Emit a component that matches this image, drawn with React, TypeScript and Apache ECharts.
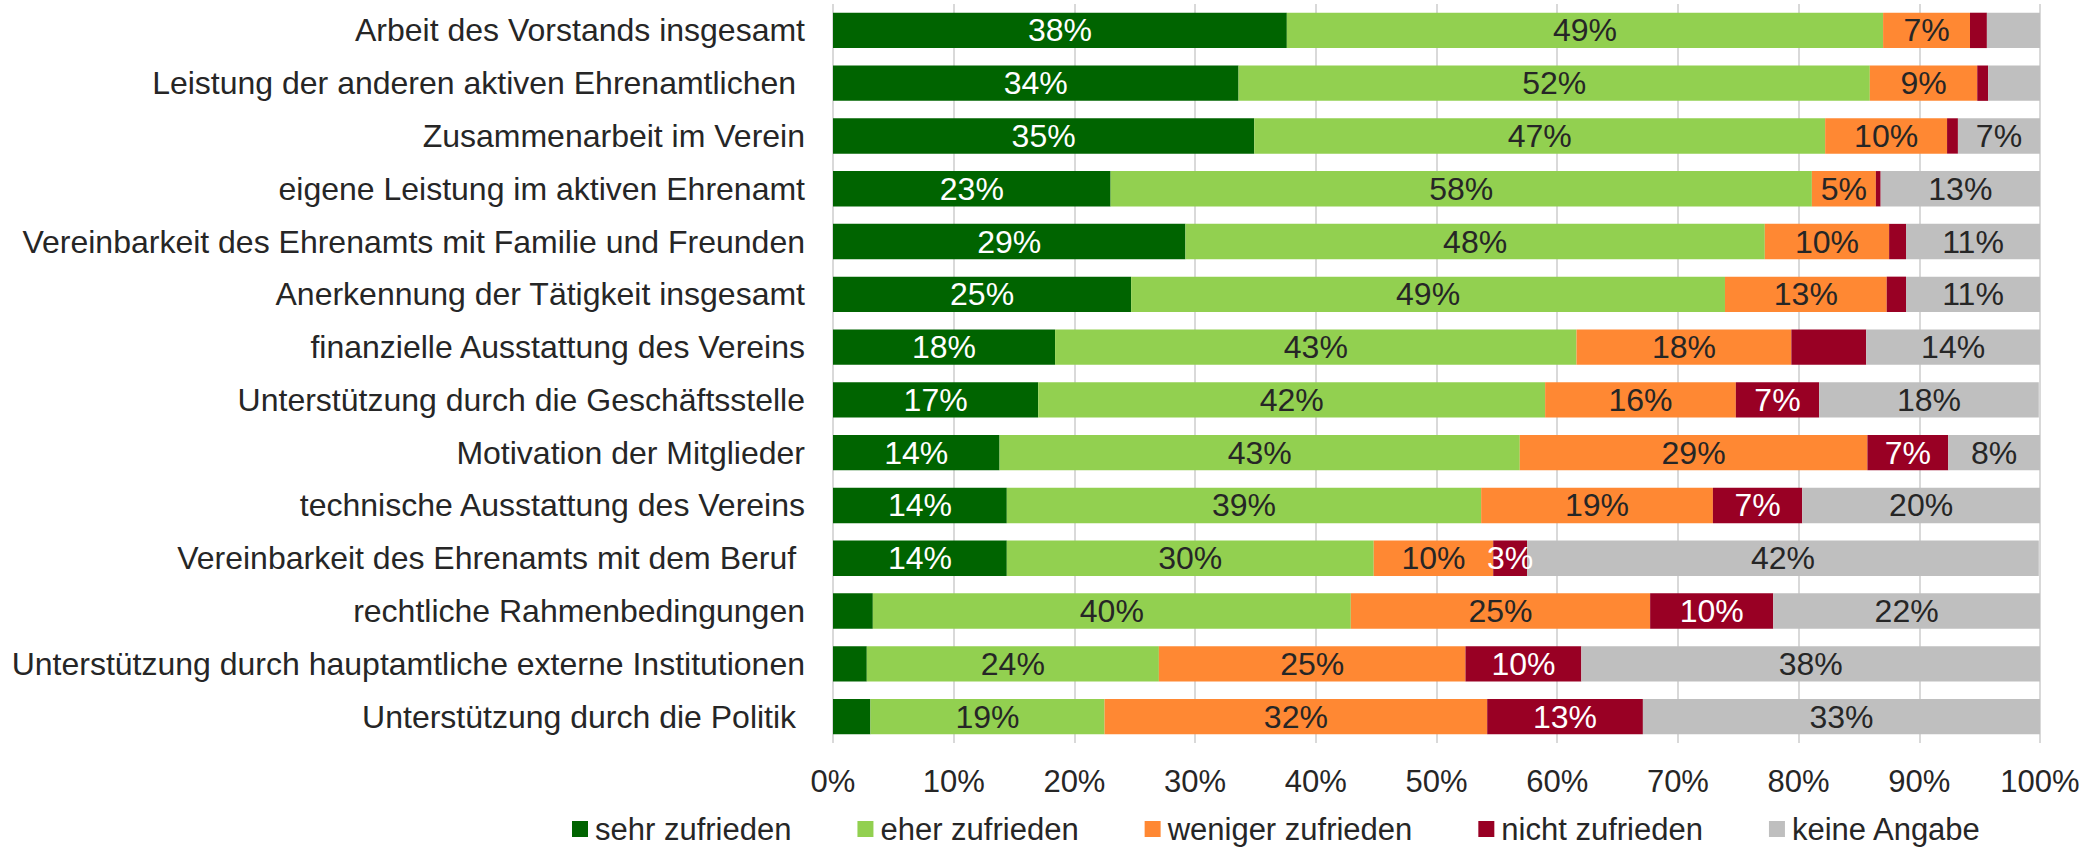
import React, { useEffect, useRef } from "react";
import * as echarts from "echarts";

const categories = [
  "Arbeit des Vorstands insgesamt",
  "Leistung der anderen aktiven Ehrenamtlichen ",
  "Zusammenarbeit im Verein",
  "eigene Leistung im aktiven Ehrenamt",
  "Vereinbarkeit des Ehrenamts mit Familie und Freunden",
  "Anerkennung der Tätigkeit insgesamt",
  "finanzielle Ausstattung des Vereins",
  "Unterstützung durch die Geschäftsstelle",
  "Motivation der Mitglieder",
  "technische Ausstattung des Vereins",
  "Vereinbarkeit des Ehrenamts mit dem Beruf ",
  "rechtliche Rahmenbedingungen",
  "Unterstützung durch hauptamtliche externe Institutionen",
  "Unterstützung durch die Politik ",
];

const seriesNames = [
  "sehr zufrieden",
  "eher zufrieden",
  "weniger zufrieden",
  "nicht zufrieden",
  "keine Angabe",
];

const sehrZufrieden = [37.6, 33.6, 34.9, 23.0, 29.2, 24.7, 18.4, 17.0, 13.8, 14.4, 14.4, 3.3, 2.8, 3.1];
const eherZufrieden = [49.4, 52.3, 47.3, 58.1, 48.0, 49.2, 43.2, 42.0, 43.1, 39.3, 30.4, 39.6, 24.2, 19.4];
const wenigerZufrieden = [7.2, 8.9, 10.1, 5.3, 10.3, 13.4, 17.8, 15.8, 28.8, 19.2, 9.9, 24.8, 25.4, 31.7];
const nichtZufrieden = [1.4, 0.9, 0.9, 0.4, 1.4, 1.6, 6.2, 6.9, 6.7, 7.4, 2.8, 10.2, 9.6, 12.9];
const keineAngabe = [4.4, 4.3, 6.8, 13.2, 11.1, 11.1, 14.4, 18.2, 7.6, 19.7, 42.4, 22.1, 38.0, 32.9];

// rows (0-based) whose value label is not shown, per series
const hiddenLabels = [
  [11, 12, 13],
  [],
  [],
  [0, 1, 2, 3, 4, 5, 6],
  [0, 1],
];

const xTicks = [0, 10, 20, 30, 40, 50, 60, 70, 80, 90, 100];

const colors = ["#006400", "#92D050", "#FF8833", "#990024", "#BFBFBF"];
const labelColors = ["#ffffff", "#262626", "#262626", "#ffffff", "#262626"];

const FONT = "'Liberation Sans', Arial, Helvetica, sans-serif";

export default function App() {
  const ref = useRef<HTMLDivElement>(null);

  useEffect(() => {
    if (!ref.current) return;
    const chart = echarts.init(ref.current, undefined, { renderer: "svg" });
    const allValues = [sehrZufrieden, eherZufrieden, wenigerZufrieden, nichtZufrieden, keineAngabe];

    const series = allValues.map((vals, si) => ({
      name: seriesNames[si],
      type: "bar",
      stack: "total",
      barCategoryGap: "33%",
      itemStyle: { color: colors[si] },
      label: {
        show: true,
        position: "inside",
        fontFamily: FONT,
        fontSize: 32,
        color: labelColors[si],
        formatter: (p: any) => Math.round(p.value) + "%",
      },
      data: vals.map((v, ri) =>
        hiddenLabels[si].includes(ri) ? { value: v, label: { show: false } } : v
      ),
    }));

    chart.setOption({
      animation: false,
      textStyle: { fontFamily: FONT },
      grid: { left: 833, right: 50, top: 4, bottom: 109, containLabel: false },
      legend: {
        data: seriesNames,
        left: 572,
        top: 812,
        padding: 0,
        icon: "rect",
        itemWidth: 16,
        itemHeight: 16,
        itemGap: 66,
        textStyle: {
          fontFamily: FONT,
          fontSize: 31,
          lineHeight: 34,
          color: "#262626",
          padding: [0, 0, 0, 2],
        },
      },
      xAxis: {
        type: "value",
        min: xTicks[0],
        max: xTicks[xTicks.length - 1],
        interval: 10,
        axisLine: { show: false },
        axisTick: { show: false },
        splitLine: { show: true, lineStyle: { color: "#D9D9D9", width: 2 } },
        axisLabel: {
          fontFamily: FONT,
          fontSize: 31,
          color: "#262626",
          margin: 23,
          formatter: "{value}%",
        },
      },
      yAxis: {
        type: "category",
        inverse: true,
        data: categories,
        axisLine: { show: false },
        axisTick: { show: false },
        splitLine: { show: false },
        axisLabel: {
          fontFamily: FONT,
          fontSize: 32,
          color: "#262626",
          margin: 28,
        },
      },
      series,
    });

    return () => {
      chart.dispose();
    };
  }, []);

  return (
    <div
      ref={ref}
      style={{ position: "fixed", left: 0, top: 0, width: 2090, height: 852, background: "#ffffff" }}
    />
  );
}
